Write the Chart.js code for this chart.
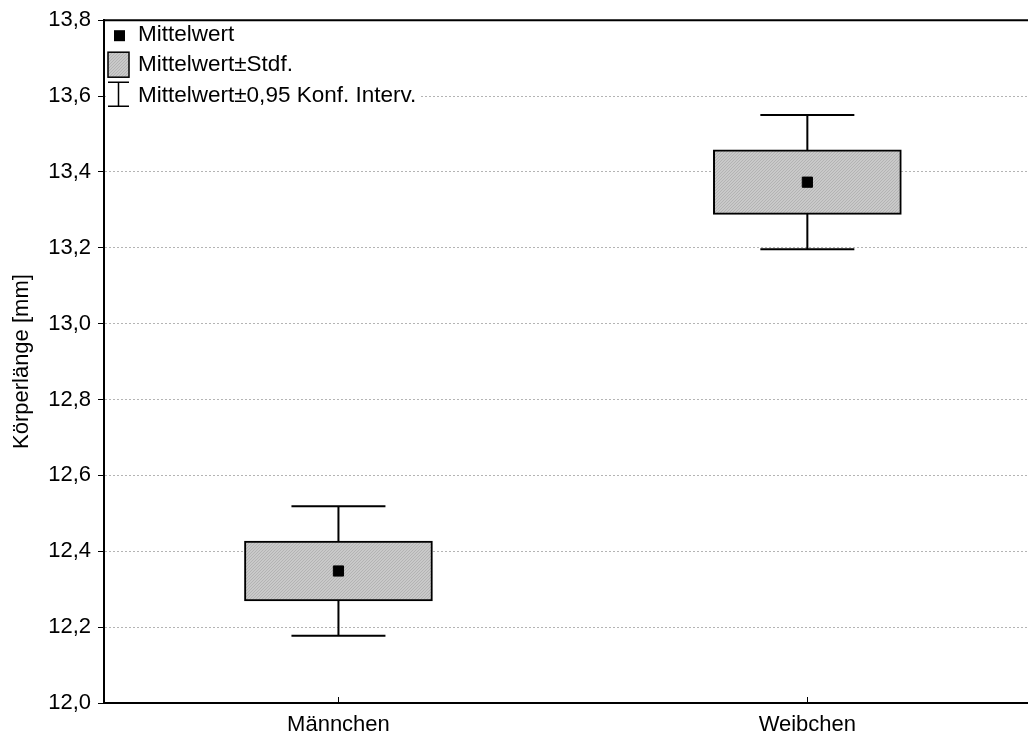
<!DOCTYPE html>
<html>
<head>
<meta charset="utf-8">
<script src="https://cdn.jsdelivr.net/npm/chart.js@4/dist/chart.umd.min.js"></script>
<style>
  body { margin: 0; background: #fff; overflow: hidden; }
  #wrap { width: 1050px; height: 740px; }
</style>
</head>
<body>
<div id="wrap"><canvas id="grafica" width="1050" height="740"></canvas></div>
<script>
const categorias = ["Männchen", "Weibchen"];
const mittelwert = [12.348, 13.373];
const stdf = [0.079, 0.085];
const konfInterv = [0.171, 0.177];
const yMin = 12.0;
const yMax = 13.8;
const yStep = 0.2;

const schrift = "'Liberation Sans', Arial, sans-serif";
Chart.defaults.font.family = schrift;
Chart.defaults.color = "#000";

// schraffiertes grau fuer die boxen
function schraffur() {
  const c = document.createElement("canvas");
  c.width = 3;
  c.height = 3;
  const g = c.getContext("2d");
  g.fillStyle = "#c9c9c9";
  g.fillRect(0, 0, 3, 3);
  g.fillStyle = "#b3b3b3";
  g.fillRect(2, 0, 1, 1);
  g.fillRect(1, 1, 1, 1);
  g.fillRect(0, 2, 1, 1);
  return g.createPattern(c, "repeat");
}
const muster = schraffur();

const boxDaten = mittelwert.map((m, i) => [m - stdf[i], m + stdf[i]]);

const fehlerbalken = {
  id: "fehlerbalken",
  beforeDatasetsDraw(chart) {
    const ctx = chart.ctx;
    const x = chart.scales.x;
    const y = chart.scales.y;
    ctx.save();
    ctx.strokeStyle = "#000";
    ctx.lineWidth = 2;
    mittelwert.forEach((m, i) => {
      const px = x.getPixelForValue(i);
      const oben = y.getPixelForValue(m + konfInterv[i]);
      const unten = y.getPixelForValue(m - konfInterv[i]);
      ctx.beginPath();
      ctx.moveTo(px, oben);
      ctx.lineTo(px, unten);
      ctx.moveTo(px - 47, oben);
      ctx.lineTo(px + 47, oben);
      ctx.moveTo(px - 47, unten);
      ctx.lineTo(px + 47, unten);
      ctx.stroke();
    });
    ctx.restore();
  },
  afterDraw(chart) {
    const ctx = chart.ctx;
    const a = chart.chartArea;
    const x = chart.scales.x;
    ctx.save();
    ctx.strokeStyle = "#000";
    ctx.lineWidth = 2;
    ctx.beginPath();
    ctx.moveTo(a.left - 1, a.top);
    ctx.lineTo(a.right, a.top);
    ctx.stroke();
    ctx.lineWidth = 1;
    categorias.forEach((c, i) => {
      const px = Math.round(x.getPixelForValue(i)) + 0.5;
      ctx.beginPath();
      ctx.moveTo(px, a.bottom);
      ctx.lineTo(px, a.bottom - 6);
      ctx.stroke();
    });

    // legende
    const lx = a.left;
    const ly = a.top;
    ctx.fillStyle = "#fff";
    ctx.fillRect(lx + 2, ly + 2, 314, 86);
    ctx.fillStyle = "#000";
    ctx.fillRect(lx + 10, ly + 10, 11, 11);
    ctx.fillStyle = muster;
    ctx.fillRect(lx + 4, ly + 32, 21, 25);
    ctx.lineWidth = 1.5;
    ctx.strokeRect(lx + 4, ly + 32, 21, 25);
    ctx.beginPath();
    ctx.moveTo(lx + 14.5, ly + 62);
    ctx.lineTo(lx + 14.5, ly + 86);
    ctx.moveTo(lx + 4, ly + 62);
    ctx.lineTo(lx + 25, ly + 62);
    ctx.moveTo(lx + 4, ly + 86);
    ctx.lineTo(lx + 25, ly + 86);
    ctx.stroke();
    ctx.fillStyle = "#000";
    ctx.font = "22.5px " + schrift;
    ctx.textBaseline = "middle";
    ctx.textAlign = "left";
    ctx.fillText("Mittelwert", lx + 34, ly + 15);
    ctx.fillText("Mittelwert±Stdf.", lx + 34, ly + 45);
    ctx.fillText("Mittelwert±0,95 Konf. Interv.", lx + 34, ly + 76);
    ctx.restore();
  }
};

new Chart(document.getElementById("grafica"), {
  type: "bar",
  data: {
    labels: categorias,
    datasets: [
      {
        type: "line",
        label: "Mittelwert",
        data: mittelwert,
        showLine: false,
        pointStyle: "rect",
        pointRadius: 7.2,
        pointBackgroundColor: "#000",
        pointBorderColor: "#000",
        pointBorderWidth: 1,
        order: 0
      },
      {
        label: "Mittelwert±Stdf.",
        data: boxDaten,
        backgroundColor: muster,
        borderColor: "#000",
        borderWidth: 2,
        borderSkipped: false,
        barThickness: 188,
        order: 2
      }
    ]
  },
  options: {
    responsive: false,
    animation: false,
    devicePixelRatio: 1,
    layout: { padding: { top: 20, left: 0, right: 0, bottom: 0 } },
    plugins: {
      legend: { display: false },
      tooltip: { enabled: false }
    },
    scales: {
      x: {
        afterFit: s => { s.height = 37; },
        grid: { display: true, drawOnChartArea: false, drawTicks: false },
        border: { display: true, color: "#000", width: 2 },
        ticks: { font: { size: 22 }, color: "#000", padding: 9 }
      },
      y: {
        min: yMin,
        max: yMax,
        afterFit: s => { s.width = 104; },
        ticks: {
          stepSize: yStep,
          font: { size: 22 },
          color: "#000",
          padding: 7,
          callback: v => v.toFixed(1).replace(".", ",")
        },
        grid: {
          color: "#b4b4b4",
          lineWidth: 1,
          tickColor: "#000",
          tickLength: 6,
          tickWidth: 1,
          tickBorderDash: []
        },
        border: { display: true, color: "#000", width: 2, dash: [2, 2] },
        title: {
          display: true,
          text: "Körperlänge [mm]",
          font: { size: 22 },
          color: "#000",
          padding: { top: 9, bottom: 0 }
        }
      }
    }
  },
  plugins: [fehlerbalken]
});
</script>
</body>
</html>
